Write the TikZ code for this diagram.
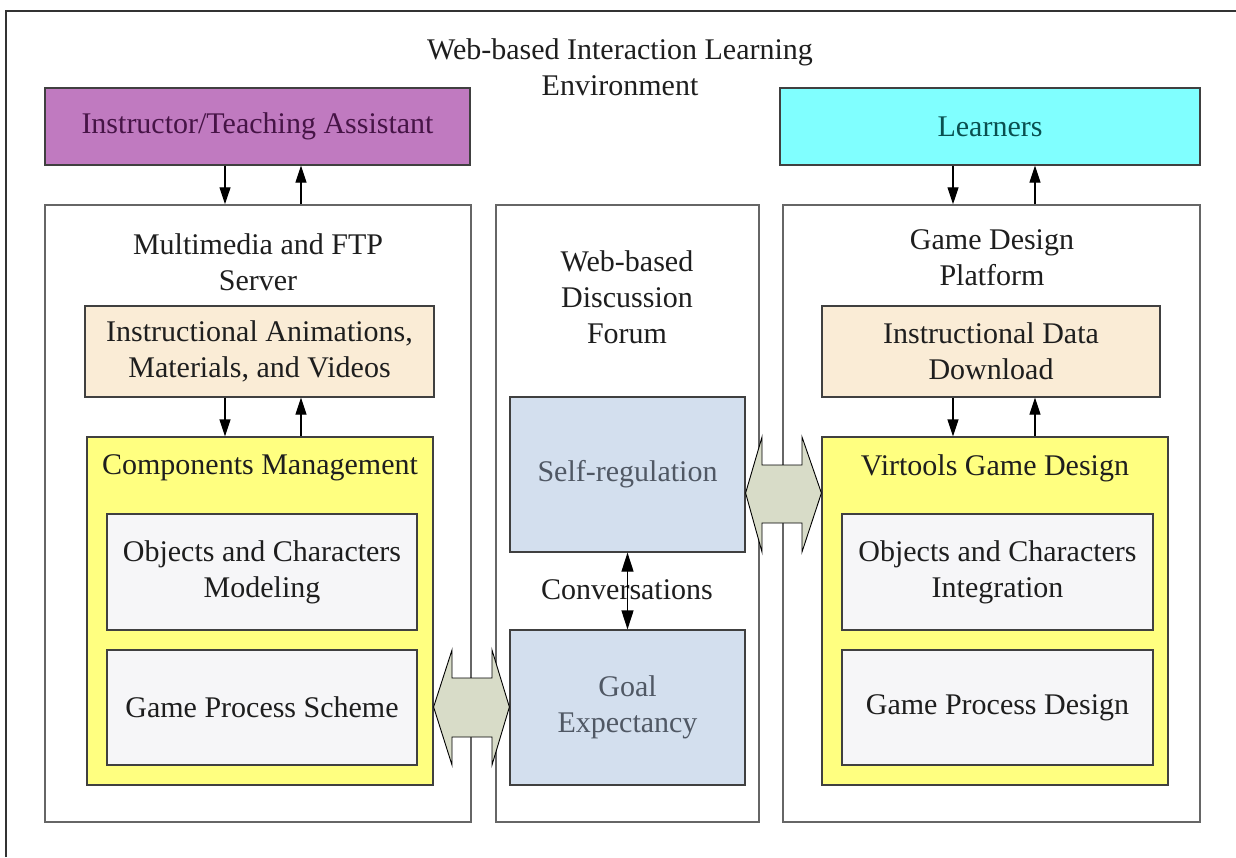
\documentclass[tikz,border=0pt]{standalone}
\usepackage{fontspec}
\setmainfont{Liberation Serif}
\usetikzlibrary{arrows.meta,calc}
\definecolor{purp}{RGB}{192,122,192}
\definecolor{cyanb}{RGB}{128,255,255}
\definecolor{beige}{RGB}{250,236,214}
\definecolor{yell}{RGB}{255,255,128}
\definecolor{lgray}{RGB}{246,246,248}
\definecolor{lblue}{RGB}{211,223,238}
\definecolor{barrow}{RGB}{216,220,200}
\definecolor{txt}{RGB}{30,30,30}
\begin{document}
\begin{tikzpicture}[x=1pt,y=-1pt,
  every node/.style={font=\fontsize{30}{36}\selectfont, text=txt, align=center, inner sep=0pt},
  bx/.style={draw=black!75, line width=1.2pt, minimum width=#1},
  panel/.style={draw=black!60, line width=1.5pt},
  arr/.style={line width=1.2pt, -{Triangle[length=17pt,width=11pt]}},
  darr/.style={line width=1.2pt, {Triangle[length=19pt,width=12pt]}-{Triangle[length=19pt,width=12pt]}},
  blk/.style={draw=black, line width=0.9pt, fill=barrow, line join=miter}
]
\useasboundingbox (0,0) rectangle (1236,857);
\fill[white] (0,0) rectangle (1236,857);
% outer frame (left and top edges visible)
\draw[line width=1.8pt, black!80] (6,857) -- (6,11) -- (1236,11);

% title
\node (title) at (620,67) {Web-based Interaction Learning\\Environment};

% top boxes
\node[bx=425pt, minimum height=77pt, fill=purp, text={rgb,255:red,70;green,20;blue,70}] (inst) at (257.5,126.5) {Instructor/Teaching Assistant};
\node[bx=420pt, minimum height=77pt, fill=cyanb, text={rgb,255:red,10;green,80;blue,80}] (learn) at (990,126.5) {Learners};

% panels
\node[panel, minimum width=426pt, minimum height=617pt] (panL) at (258,513.5) {};
\node[panel, minimum width=263pt, minimum height=617pt] (panM) at (627.5,513.5) {};
\node[panel, minimum width=417pt, minimum height=617pt] (panR) at (991.5,513.5) {};

\node (panLt) at (258,262.5) {Multimedia and FTP\\Server};
\node (panMt) at (627,297) {Web-based\\Discussion\\Forum};
\node (panRt) at (992,257.5) {Game Design\\Platform};

% beige boxes
\node[bx=349pt, minimum height=91pt, fill=beige] (begL) at (259.5,351.5) {Instructional Animations,\\Materials, and Videos};
\node[bx=338pt, minimum height=91pt, fill=beige] (begR) at (991,351.5) {Instructional Data\\Download};

% yellow boxes
\node[bx=346pt, minimum height=348pt, fill=yell] (yelL) at (260,611) {};
\node[bx=346pt, minimum height=348pt, fill=yell] (yelR) at (995,611) {};
\node (yelLt) at (260,468) {Components Management};
\node (yelRt) at (995,468) {Virtools Game Design};

% gray inner boxes
\node[bx=310pt, minimum height=116pt, fill=lgray] (gL1) at (262,572) {Objects and Characters\\Modeling};
\node[bx=310pt, minimum height=115pt, fill=lgray] (gL2) at (262,707.5) {Game Process Scheme};
\node[bx=311pt, minimum height=116pt, fill=lgray] (gR1) at (997.5,572) {Objects and Characters\\Integration};
\node[bx=311pt, minimum height=115pt, fill=lgray] (gR2) at (997.5,707.5) {Game Process Design};

% blue boxes
\node[bx=235pt, minimum height=155pt, fill=lblue, text={rgb,255:red,80;green,88;blue,100}] (self) at (627.5,474.5) {Self-regulation};
\node[bx=235pt, minimum height=155pt, fill=lblue, text={rgb,255:red,80;green,88;blue,100}] (goal) at (627.5,707.5) {Goal\\Expectancy};

% conversations
\node (conv) at (627,590) {Conversations};
\draw[darr] (self.south) -- (goal.north);

% small arrows
\coordinate (xa) at (225,0);
\coordinate (xb) at (301,0);
\coordinate (xc) at (953,0);
\coordinate (xd) at (1035,0);
\draw[arr] (inst.south -| xa) -- (panL.north -| xa);
\draw[arr] (panL.north -| xb) -- (inst.south -| xb);
\draw[arr] (begL.south -| xa) -- (yelL.north -| xa);
\draw[arr] (yelL.north -| xb) -- (begL.south -| xb);
\draw[arr] (learn.south -| xc) -- (panR.north -| xc);
\draw[arr] (panR.north -| xd) -- (learn.south -| xd);
\draw[arr] (begR.south -| xc) -- (yelR.north -| xc);
\draw[arr] (yelR.north -| xd) -- (begR.south -| xd);

% block double arrows
\draw[blk] (yelL.east |- 0,707) -- (452,650) -- (452,678) -- (492,678) -- (492,650)
  -- (goal.west |- 0,707) -- (492,765) -- (492,737) -- (452,737) -- (452,765) -- cycle;
\draw[blk] (self.east |- 0,493) -- (762,437) -- (762,465) -- (802,465) -- (802,437)
  -- (yelR.west |- 0,493) -- (802,552) -- (802,523) -- (762,523) -- (762,552) -- cycle;
\end{tikzpicture}
\end{document}
